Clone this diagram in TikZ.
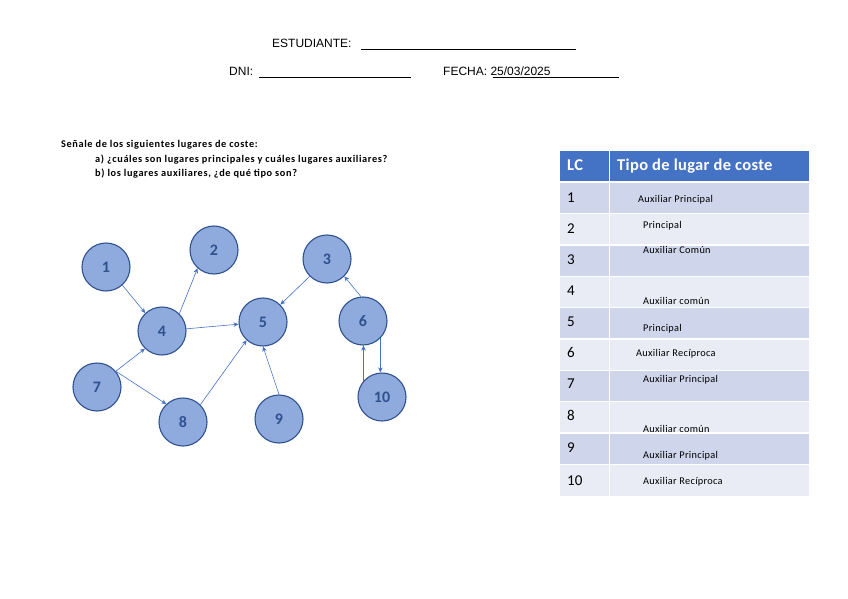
\documentclass[tikz,border=0pt]{standalone}
\usepackage{fontspec}
\setmainfont{Carlito}
\newfontfamily\arialf{Liberation Sans}
\newfontfamily\spacedf[LetterSpace=6]{Carlito}
\newfontfamily\cellf[LetterSpace=3]{Carlito}
\newfontfamily\hdrf[LetterSpace=2]{Carlito}
\usetikzlibrary{arrows.meta}
\definecolor{hdr}{HTML}{4472C4}
\definecolor{rowA}{HTML}{CFD5EA}
\definecolor{rowB}{HTML}{E9EBF5}
\definecolor{circfill}{HTML}{8FAADC}
\definecolor{circline}{HTML}{2F528F}
\definecolor{arr}{HTML}{4472C4}
\tikzset{
  lc/.style={circle,draw=circline,line width=1.1pt,fill=circfill,minimum size=48pt,inner sep=0pt,
    text=circline,font=\fontsize{16}{16}\selectfont\bfseries},
  conn/.style={draw=arr,line width=0.6pt,-{Stealth[length=5pt,width=4.5pt]}},
  toptext/.style={anchor=base west,inner sep=0pt,font=\arialf\fontsize{12}{14}\selectfont},
  instr/.style={anchor=base west,inner sep=0pt,font=\spacedf\fontsize{10.3}{11}\selectfont\bfseries},
  numtxt/.style={anchor=base west,inner sep=0pt,font=\fontsize{15}{15}\selectfont},
  celltxt/.style={anchor=base west,inner sep=0pt,font=\cellf\fontsize{10.3}{11}\selectfont},
  hdrtxt/.style={anchor=base west,inner sep=0pt,text=white,font=\hdrf\fontsize{16.5}{16}\selectfont\bfseries},
  uline/.style={draw=black,line width=0.8pt}
}
\begin{document}
\begin{tikzpicture}[x=1pt,y=-1pt]
\useasboundingbox[fill=white] (0,0) rectangle (848,599);

% header lines
\node[toptext] (est) at (272,48) {ESTUDIANTE:};
\draw[uline] (361,49.5) -- (576,49.5);
\node[toptext] (dni) at (229,76) {DNI:};
\draw[uline] (259,77.5) -- (411,77.5);
\node[toptext] (fecha) at (443,76) {FECHA: 25/03/2025};
\draw[uline] (493,77.5) -- (619,77.5);

% instructions
\node[instr] (q0) at (61,147) {Señale de los siguientes lugares de coste:};
\node[instr] (qa) at (95,162) {a) ¿cuáles son lugares principales y cuáles lugares auxiliares?};
\node[instr] (qb) at (95,176) {b) los lugares auxiliares, ¿de qué tipo son?};

% graph
\node[lc] (n1) at (106,267) {1};
\node[lc] (n2) at (214,250) {2};
\node[lc] (n3) at (327,259) {3};
\node[lc] (n4) at (162,331) {4};
\node[lc] (n5) at (263,322) {5};
\node[lc] (n6) at (363,321) {6};
\node[lc] (n7) at (97,387) {7};
\node[lc] (n8) at (183,422) {8};
\node[lc] (n9) at (279,419) {9};
\node[lc] (n10) at (382,397) {10};

\draw[conn] (n1.-48) -- (n4.133);
\draw[conn] (n4.45) -- (n2.228);
\draw[conn] (n4) -- (n5);
\draw[conn] (n7.40) -- (n4.226);
\draw[conn] (n7.40) -- (n8.133);
\draw[conn] (n8.45) -- (n5.228);
\draw[conn] (n9.north) -- (n5.south);
\draw[conn] (n3.225) -- (n5.45);
\draw[conn] (n6.95) -- (n3.-45);
\draw[conn] (n6.-45) -- (n6.-45 |- n10.north);
\draw[conn] (n10.139) -- (n10.139 |- n6.south);

% table
\fill[hdr] (560,151) rectangle (809,181);
\fill[white] (609,151) rectangle (610,181);
\foreach \t/\b/\c in {183/213/rowA,214/244/rowB,245.5/275.5/rowA,277/307/rowB,308/338/rowA,
                      339.5/369.5/rowB,371/401/rowA,402/432/rowB,433.5/464/rowA,465/496/rowB}{
  \fill[\c] (560,\t) rectangle (809,\b);
  \fill[white] (609,\t) rectangle (610,\b);
}
\node[hdrtxt] (hlc) at (567,170) {LC};
\node[hdrtxt] (htipo) at (617,170) {Tipo de lugar de coste};

\node[numtxt] (r1n) at (567,202) {1};
\node[numtxt] (r2n) at (567,233) {2};
\node[numtxt] (r3n) at (567,264) {3};
\node[numtxt] (r4n) at (567,295) {4};
\node[numtxt] (r5n) at (567,326) {5};
\node[numtxt] (r6n) at (567,357) {6};
\node[numtxt] (r7n) at (567,388) {7};
\node[numtxt] (r8n) at (567,420) {8};
\node[numtxt] (r9n) at (567,452) {9};
\node[numtxt] (r10n) at (567,485) {10};

\node[celltxt] (r1t) at (638,202) {Auxiliar Principal};
\node[celltxt] (r2t) at (643,228) {Principal};
\node[celltxt] (r3t) at (643,253) {Auxiliar Común};
\node[celltxt] (r4t) at (643,304) {Auxiliar común};
\node[celltxt] (r5t) at (643,331) {Principal};
\node[celltxt] (r6t) at (636,356) {Auxiliar Recíproca};
\node[celltxt] (r7t) at (643,382) {Auxiliar Principal};
\node[celltxt] (r8t) at (643,432) {Auxiliar común};
\node[celltxt] (r9t) at (643,458) {Auxiliar Principal};
\node[celltxt] (r10t) at (643,484) {Auxiliar Recíproca};
\end{tikzpicture}
\end{document}
